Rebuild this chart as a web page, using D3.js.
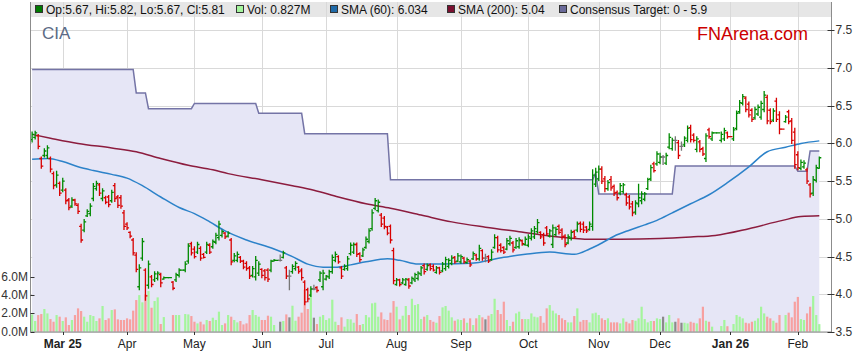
<!DOCTYPE html>
<html>
<head>
<meta charset="utf-8">
<script src="https://cdn.jsdelivr.net/npm/d3@7"></script>
<style>
  body { margin: 0; background: #fff; }
  svg { display: block; font-family: "Liberation Sans", Arial, sans-serif; }
</style>
</head>
<body>
<div id="chart"></div>
<script>
// month ticks: index of the first weekday of each month (bar 0 = 17 Feb 2025)
const monthLabels = ["Mar 25", "Apr", "May", "Jun", "Jul", "Aug", "Sep", "Oct", "Nov", "Dec", "Jan 26", "Feb"];
const monthIdx = [10, 31, 53, 75, 96, 119, 140, 162, 185, 205, 228, 250];

const priceTicks = [3.5, 4.0, 4.5, 5.0, 5.5, 6.0, 6.5, 7.0, 7.5];
const volTicks = [0, 2, 4, 6];

// daily OHLC (one entry per weekday, holidays repeat the previous close)
const opens = [
  6.05,6.08,6.10,5.80,5.84,5.84,5.80,5.60,5.45,5.47, 5.38,5.38,5.25,5.17,5.25,5.18,4.90,4.85,5.04,5.07,
  5.27,5.40,5.45,5.27,5.28,5.29,5.24,5.44,5.29,5.28, 5.08,4.93,4.82,4.72,4.52,4.10,4.48,4.32,4.12,4.23,
  4.19,4.21,4.26,4.20,4.22,4.22,4.16,4.19,4.25,4.32, 4.32,4.44,4.67,4.60,4.56,4.61,4.53,4.56,4.65,4.63,
  4.69,4.75,4.78,4.81,4.77,4.72,4.45,4.45,4.49,4.44, 4.41,4.35,4.25,4.23,4.28,4.33,4.31,4.32,4.32,4.44,
  4.45,4.45,4.49,4.35,4.24,4.30,4.34,4.36,4.32,4.16, 4.06,3.99,4.07,4.09,4.19,4.10,4.20,4.23,4.30,4.45,
  4.50,4.35,4.33,4.34,4.54,4.56,4.66,4.54,4.51,4.62, 4.70,4.87,5.14,5.11,5.05,5.01,4.89,4.90,4.58,4.13,
  4.19,4.15,4.13,4.19,4.15,4.19,4.21,4.27,4.38,4.33, 4.39,4.37,4.29,4.35,4.31,4.34,4.37,4.41,4.49,4.44,
  4.43,4.48,4.42,4.44,4.47,4.52,4.47,4.58,4.48,4.50, 4.46,4.62,4.75,4.65,4.62,4.60,4.67,4.68,4.62,4.63,
  4.71,4.66,4.65,4.74,4.76,4.83,4.82,4.79,4.88,4.77, 4.66,4.79,4.90,4.85,4.77,4.68,4.74,4.83,4.85,4.94,
  4.93,4.89,4.86,4.90,5.46,5.53,5.66,5.53,5.40,5.52, 5.43,5.35,5.34,5.36,5.32,5.29,5.20,5.09,5.20,5.24,
  5.26,5.40,5.53,5.73,5.73,5.75,5.82,5.74,5.95,5.93, 6.04,6.01,5.96,5.98,6.04,6.21,6.11,5.92,6.02,5.93,
  5.80,6.18,6.06,6.14,6.14,6.04,6.06,6.14,6.09,6.06, 6.20,6.42,6.53,6.60,6.52,6.44,6.34,6.39,6.35,6.45,
  6.61,6.44,6.31,6.56,6.38,6.19,6.29,6.42,6.30,6.15, 5.85,5.67,5.69,5.65,5.45,5.34,5.51,5.67
];
const highs = [
  6.15,6.16,6.12,5.82,5.93,5.97,5.82,5.62,5.63,5.49, 5.54,5.40,5.27,5.28,5.26,5.20,4.93,4.99,5.12,5.20,
  5.47,5.50,5.47,5.40,5.30,5.31,5.38,5.47,5.31,5.31, 5.11,4.95,4.83,4.74,4.55,4.39,4.74,4.34,4.44,4.25,
  4.30,4.30,4.28,4.23,4.22,4.22,4.17,4.28,4.34,4.32, 4.43,4.67,4.69,4.63,4.69,4.63,4.54,4.69,4.67,4.72,
  4.81,4.97,4.85,4.82,4.83,4.74,4.54,4.56,4.50,4.45, 4.43,4.37,4.37,4.50,4.43,4.34,4.33,4.34,4.45,4.46,
  4.45,4.52,4.57,4.37,4.32,4.39,4.43,4.37,4.34,4.18, 4.08,4.10,4.12,4.10,4.30,4.32,4.25,4.32,4.52,4.56,
  4.51,4.37,4.39,4.50,4.68,4.68,4.68,4.55,4.61,4.76, 4.87,5.12,5.27,5.25,5.07,5.03,4.90,4.92,4.61,4.21,
  4.20,4.21,4.21,4.21,4.23,4.28,4.30,4.37,4.40,4.40, 4.40,4.39,4.37,4.36,4.42,4.49,4.47,4.51,4.50,4.54,
  4.52,4.49,4.48,4.45,4.56,4.53,4.65,4.59,4.53,4.51, 4.59,4.79,4.77,4.67,4.63,4.74,4.77,4.70,4.74,4.75,
  4.72,4.76,4.79,4.87,4.90,4.99,4.83,4.81,4.90,4.86, 4.92,4.89,4.92,4.87,4.79,4.79,4.85,4.85,4.96,4.96,
  4.96,4.90,4.96,5.65,5.67,5.70,5.69,5.56,5.51,5.56, 5.45,5.37,5.47,5.47,5.34,5.31,5.23,5.24,5.46,5.36,
  5.35,5.54,5.71,5.75,5.89,5.87,5.84,5.87,6.13,6.07, 6.09,6.04,6.02,6.09,6.23,6.24,6.13,6.09,6.04,5.95,
  6.13,6.20,6.15,6.14,6.14,6.15,6.20,6.15,6.09,6.21, 6.43,6.57,6.65,6.62,6.55,6.46,6.48,6.51,6.56,6.69,
  6.64,6.46,6.46,6.60,6.42,6.19,6.37,6.44,6.33,6.20, 5.89,5.78,5.77,5.67,5.47,5.56,5.71,5.82
];
const lows = [
  6.02,6.06,5.93,5.67,5.82,5.80,5.62,5.40,5.42,5.31, 5.36,5.20,5.12,5.15,5.18,5.07,4.69,4.83,5.03,5.04,
  5.24,5.38,5.31,5.24,5.20,5.16,5.22,5.23,5.15,5.14, 4.86,4.86,4.75,4.52,4.30,4.06,4.45,3.92,4.08,4.10,
  4.17,4.19,4.10,4.20,4.22,4.22,4.06,4.17,4.23,4.32, 4.30,4.41,4.52,4.48,4.54,4.45,4.48,4.54,4.54,4.61,
  4.67,4.72,4.76,4.74,4.76,4.39,4.43,4.43,4.42,4.34, 4.32,4.21,4.23,4.19,4.25,4.22,4.19,4.17,4.30,4.44,
  4.45,4.44,4.48,4.21,4.06,4.28,4.32,4.28,4.19,3.86, 3.90,3.97,4.06,4.03,4.17,4.06,4.19,4.21,4.28,4.43,
  4.41,4.21,4.32,4.32,4.52,4.54,4.50,4.43,4.50,4.61, 4.68,4.85,5.12,5.09,4.90,4.87,4.79,4.68,4.14,4.12,
  4.11,4.14,4.12,4.08,4.14,4.17,4.19,4.25,4.27,4.32, 4.32,4.31,4.28,4.27,4.30,4.32,4.35,4.39,4.41,4.43,
  4.41,4.41,4.41,4.37,4.46,4.45,4.45,4.45,4.43,4.42, 4.45,4.61,4.56,4.56,4.54,4.59,4.65,4.56,4.61,4.61,
  4.65,4.65,4.63,4.72,4.74,4.81,4.74,4.65,4.78,4.76, 4.62,4.78,4.80,4.73,4.63,4.67,4.72,4.74,4.83,4.83,
  4.82,4.82,4.85,4.85,5.43,5.51,5.47,5.36,5.38,5.38, 5.31,5.25,5.32,5.34,5.18,5.13,5.04,5.06,5.16,5.20,
  5.24,5.39,5.51,5.62,5.71,5.73,5.72,5.72,5.93,5.91, 5.91,5.80,5.91,5.96,6.02,6.02,6.02,5.89,5.89,5.84,
  5.76,6.07,6.04,6.14,6.14,6.02,6.04,6.07,6.09,6.04, 6.18,6.40,6.51,6.42,6.35,6.29,6.32,6.37,6.32,6.42,
  6.26,6.26,6.29,6.29,6.13,6.19,6.28,6.26,6.00,5.67, 5.65,5.65,5.67,5.47,5.29,5.31,5.49,5.67
];
const closes = [
  6.12,6.14,5.96,5.70,5.90,5.94,5.66,5.44,5.58,5.34, 5.50,5.24,5.15,5.25,5.20,5.10,4.72,4.96,5.10,5.17,
  5.43,5.47,5.34,5.37,5.22,5.19,5.35,5.27,5.18,5.17, 4.90,4.88,4.77,4.55,4.33,4.35,4.70,3.98,4.40,4.13,
  4.27,4.28,4.15,4.22,4.22,4.22,4.08,4.26,4.32,4.32, 4.40,4.64,4.55,4.50,4.66,4.48,4.49,4.66,4.56,4.70,
  4.78,4.93,4.83,4.76,4.81,4.43,4.51,4.53,4.44,4.36, 4.34,4.24,4.34,4.45,4.40,4.25,4.22,4.20,4.44,4.45,
  4.45,4.45,4.55,4.24,4.24,4.37,4.41,4.30,4.22,3.90, 3.94,4.07,4.07,4.05,4.28,4.28,4.24,4.30,4.49,4.53,
  4.43,4.24,4.37,4.47,4.65,4.66,4.53,4.46,4.59,4.73, 4.84,5.08,5.24,5.22,4.93,4.90,4.81,4.72,4.18,4.19,
  4.13,4.19,4.20,4.11,4.21,4.26,4.28,4.35,4.30,4.38, 4.34,4.32,4.35,4.29,4.40,4.46,4.45,4.48,4.43,4.51,
  4.50,4.43,4.46,4.39,4.54,4.47,4.61,4.48,4.48,4.44, 4.56,4.75,4.59,4.58,4.56,4.71,4.74,4.59,4.71,4.72,
  4.67,4.73,4.76,4.84,4.87,4.95,4.76,4.68,4.80,4.84, 4.88,4.86,4.82,4.76,4.66,4.76,4.82,4.76,4.93,4.86,
  4.85,4.84,4.93,5.58,5.62,5.66,5.50,5.40,5.48,5.41, 5.34,5.28,5.44,5.45,5.21,5.16,5.08,5.21,5.28,5.33,
  5.33,5.52,5.68,5.64,5.86,5.82,5.82,5.84,6.08,6.04, 6.04,5.84,5.96,6.07,6.20,6.05,6.04,6.06,5.92,5.86,
  6.10,6.09,6.14,6.14,6.14,6.12,6.17,6.09,6.09,6.18, 6.40,6.54,6.62,6.45,6.38,6.32,6.45,6.48,6.53,6.64,
  6.30,6.29,6.43,6.32,6.19,6.19,6.35,6.29,6.04,5.72, 5.68,5.75,5.74,5.50,5.33,5.52,5.68,5.81
];
// volume in millions
const volumes = [
  1.89,1.17,1.82,1.93,2.48,2.00,1.38,1.09,1.82,1.64, 1.17,1.57,0.73,1.28,1.82,2.55,2.26,1.64,1.09,1.82,
  1.71,1.17,1.46,2.81,1.28,1.46,2.37,2.44,1.35,1.28, 1.28,1.46,1.35,2.30,3.46,4.00,3.21,4.08,4.44,2.62,
  3.35,3.75,0.84,1.60,0,0,1.82,1.82,1.82,0, 1.93,1.89,1.71,1.09,0.91,1.09,0.80,1.28,1.17,1.53,
  1.28,2.19,0.73,0.91,1.82,1.64,1.28,1.02,1.17,0.80, 0.91,1.82,2.37,1.82,1.64,1.28,1.28,1.75,1.64,0.73,
  0,1.09,1.17,1.89,1.57,2.84,1.20,1.64,2.08,4.60, 2.48,4.70,1.53,0.84,1.64,1.82,1.28,1.46,3.50,1.09,
  0.73,1.57,0.55,1.38,1.35,0.98,1.93,0.73,0.84,1.82, 1.57,3.10,3.17,1.64,2.11,1.35,1.28,2.08,3.35,2.73,
  1.35,1.75,2.81,1.82,3.60,2.91,3.02,1.38,1.64,1.82, 1.28,1.09,0.98,1.71,2.66,2.81,2.30,1.57,1.20,1.35,
  1.28,1.46,0.98,1.46,0.73,1.46,1.82,1.57,1.35,1.75, 1.93,3.60,2.37,1.93,3.28,1.28,0.62,1.09,2.00,2.19,
  1.38,1.38,1.38,2.00,1.64,1.57,1.71,0.98,2.55,2.91, 2.30,2.00,1.82,1.46,1.28,1.02,1.02,1.71,2.55,1.09,
  1.28,1.28,1.02,2.00,2.08,1.82,1.46,1.28,1.46,1.02, 1.02,1.02,0.91,1.46,1.09,0.91,1.28,1.20,1.46,2.73,
  1.38,1.02,1.17,1.17,1.46,1.38,1.64,1.02,1.82,1.02, 1.09,1.46,0.98,0.98,0.91,1.09,0.98,0.91,1.46,2.73,
  1.20,1.09,0.55,0,0,0.62,1.28,0.60,0,0.84, 1.82,1.64,1.46,0.98,0.91,1.09,1.20,1.46,2.73,2.00,
  1.64,1.46,1.20,0.98,1.82,0,1.82,2.08,1.57,3.28, 3.80,1.38,1.28,2.00,2.73,3.90,1.82,0.827
];

// moving averages at these bar indices
const sma60Idx = [0, 5, 10, 15, 20, 26, 31, 36, 42, 48, 53, 58, 63, 70, 79, 85, 90, 95, 99, 104, 109, 116, 120, 126,
  134, 143, 154, 161, 169, 177, 182, 186, 190, 195, 200, 204, 209, 215, 221, 227, 234, 240, 246, 251, 257];
const sma60Val = [5.79, 5.80, 5.76, 5.69, 5.64, 5.59, 5.54, 5.44, 5.29, 5.15, 5.07, 4.96, 4.84, 4.72, 4.60, 4.50, 4.40,
  4.36, 4.36, 4.39, 4.43, 4.47, 4.45, 4.40, 4.40, 4.41, 4.49, 4.53, 4.56, 4.53, 4.60, 4.68, 4.77, 4.85, 4.92, 4.98,
  5.08, 5.20, 5.32, 5.48, 5.69, 5.89, 5.95, 6.00, 6.034];
const sma200Idx = [0, 6, 15, 26, 34, 42, 51, 59, 64, 75, 85, 92, 100, 109, 117, 127, 137, 148, 159, 172, 182, 192,
  205, 215, 223, 234, 245, 251, 257];
const sma200Val = [6.12, 6.07, 6.00, 5.94, 5.89, 5.80, 5.71, 5.65, 5.60, 5.52, 5.44, 5.38, 5.29, 5.20, 5.14, 5.05,
  4.96, 4.89, 4.83, 4.76, 4.73, 4.73, 4.74, 4.76, 4.78, 4.87, 4.98, 5.03, 5.04];

// consensus target: value held from bar targetFrom to bar targetTo
const targetFrom = [0, 34, 38, 53, 74, 89, 117, 184, 185, 210, 250, 254];
const targetTo = [33, 37, 52, 73, 88, 116, 183, 184, 209, 249, 253, 257];
const targetVal = [6.98, 6.67, 6.46, 6.53, 6.40, 6.13, 5.52, 5.61, 5.33, 5.70, 5.63, 5.90];

const W = 859, H = 363;
const pL = 30.5, pR = 831.5, pT = 2, pB = 332;
const N = closes.length;

const upCol = "#008a00", downCol = "#d80000", flatCol = "#777";
const volUp = "#a4f59c", volDown = "#f7a0a0", volFlat = "#8a8a8a";

const x = d3.scaleLinear().domain([0, N - 1]).range([32.1, 819.3]);
const y = d3.scaleLinear().domain([3.5, 7.5]).range([pB, 30.3]);
const yVol = d3.scaleLinear().domain([0, 6]).range([331.7, 276.8]);

// colour of each day: up, down or unchanged; holidays keep the previous colour
const dir = [];
closes.forEach((c, i) => {
  let d;
  if (volumes[i] === 0 && i > 0) d = dir[i - 1];
  else d = c > opens[i] ? 1 : (c < opens[i] ? -1 : 0);
  dir.push(d);
});

const svg = d3.select("#chart").append("svg")
  .attr("width", W).attr("height", H)
  .attr("viewBox", [0, 0, W, H]);

// legend band
svg.append("rect").attr("x", pL + 0.5).attr("y", pT).attr("width", pR - pL - 1).attr("height", 15)
  .attr("fill", "#e6e6e6");

// grid
svg.append("g").selectAll("line").data(priceTicks).join("line")
  .attr("x1", pL).attr("x2", pR)
  .attr("y1", d => Math.round(y(d)) + 0.5).attr("y2", d => Math.round(y(d)) + 0.5)
  .attr("stroke", "#d9d9d9");
svg.append("g").selectAll("line").data(monthIdx).join("line")
  .attr("x1", d => Math.round(x(d)) + 0.5).attr("x2", d => Math.round(x(d)) + 0.5)
  .attr("y1", pT).attr("y2", pB)
  .attr("stroke", "#d9d9d9");

// consensus target area + line
const targetPts = [];
targetFrom.forEach((f, k) => {
  targetPts.push([f, targetVal[k]]);
  if (targetTo[k] !== f) targetPts.push([targetTo[k], targetVal[k]]);
});
svg.append("path").datum(targetPts)
  .attr("fill", "#e6e6f6")
  .attr("d", d3.area().x(d => x(d[0])).y0(pB).y1(d => y(d[1])));

// volume
svg.append("g").selectAll("rect").data(volumes).join("rect")
  .attr("x", (d, i) => x(i) - 1.1)
  .attr("width", 2.2)
  .attr("y", d => yVol(d))
  .attr("height", d => yVol(0) - yVol(d))
  .attr("fill", (d, i) => dir[i] > 0 ? volUp : (dir[i] < 0 ? volDown : volFlat));

// consensus line
svg.append("path").datum(targetPts)
  .attr("fill", "none").attr("stroke", "#7474a6").attr("stroke-width", 1.5)
  .attr("d", d3.line().x(d => x(d[0])).y(d => y(d[1])));

// moving averages
const maLine = d3.line().x(d => x(d[0])).y(d => y(d[1])).curve(d3.curveMonotoneX);
svg.append("path").datum(sma200Idx.map((d, i) => [d, sma200Val[i]]))
  .attr("fill", "none").attr("stroke", "#8c1c3e").attr("stroke-width", 1.5).attr("d", maLine);
svg.append("path").datum(sma60Idx.map((d, i) => [d, sma60Val[i]]))
  .attr("fill", "none").attr("stroke", "#2c82c9").attr("stroke-width", 1.5).attr("d", maLine);

// OHLC bars
svg.append("g").attr("fill", "none").attr("stroke-width", 1.3)
  .selectAll("path").data(closes).join("path")
  .attr("stroke", (d, i) => dir[i] > 0 ? upCol : (dir[i] < 0 ? downCol : flatCol))
  .attr("d", (c, i) => {
    const cx = x(i);
    return `M${cx},${y(highs[i]) - 0.5}V${y(lows[i]) + 0.5}` +
      `M${cx - 2},${y(opens[i])}H${cx}M${cx},${y(c)}H${cx + 2}`;
  });

// axes lines
const axisCol = "#8c8c8c";
svg.append("line").attr("x1", pL).attr("x2", pL).attr("y1", pT).attr("y2", pB).attr("stroke", axisCol);
svg.append("line").attr("x1", pR).attr("x2", pR).attr("y1", pT).attr("y2", pB).attr("stroke", axisCol);
svg.append("line").attr("x1", pL).attr("x2", pR).attr("y1", pB).attr("y2", pB).attr("stroke", axisCol);

// right price axis
const ra = svg.append("g").attr("font-size", 12).attr("fill", "#333");
ra.selectAll("line").data(priceTicks).join("line")
  .attr("x1", pR - 4).attr("x2", pR + 3)
  .attr("y1", d => Math.round(y(d)) + 0.5).attr("y2", d => Math.round(y(d)) + 0.5)
  .attr("stroke", "#333");
ra.selectAll("text").data(priceTicks).join("text")
  .attr("x", pR + 4).attr("y", d => y(d) + 4)
  .text(d3.format(".1f"));

// left volume axis
const la = svg.append("g").attr("font-size", 12).attr("fill", "#333");
la.selectAll("line").data(volTicks).join("line")
  .attr("x1", pL).attr("x2", pL + 4)
  .attr("y1", d => Math.round(yVol(d)) + 0.5).attr("y2", d => Math.round(yVol(d)) + 0.5)
  .attr("stroke", "#333");
la.selectAll("text").data(volTicks).join("text")
  .attr("x", 28).attr("y", d => yVol(d) + 4).attr("text-anchor", "end")
  .text(d => d.toFixed(1) + "M");

// bottom month axis
const ba = svg.append("g").attr("font-size", 12).attr("fill", "#222");
ba.selectAll("line").data(monthIdx).join("line")
  .attr("x1", d => Math.round(x(d)) + 0.5).attr("x2", d => Math.round(x(d)) + 0.5)
  .attr("y1", pB).attr("y2", pB + 3).attr("stroke", "#333");
ba.selectAll("text").data(monthLabels).join("text")
  .attr("x", (d, i) => x(monthIdx[i])).attr("y", 348).attr("text-anchor", "middle")
  .attr("font-weight", d => /\d/.test(d) ? "bold" : null)
  .text(d => d);

// titles
svg.append("text").attr("x", 42).attr("y", 39).attr("font-size", 17).attr("fill", "#5b6a85").text("CIA");
svg.append("text").attr("x", 808).attr("y", 40).attr("font-size", 18).attr("text-anchor", "end")
  .attr("fill", "#cc0000").text("FNArena.com");

// legend
const last = N - 1;
const legend = [
  { x: 35, col: "#007a00", text: `Op:${opens[last].toFixed(2)}, Hi:${highs[last].toFixed(2)}, Lo:${lows[last].toFixed(2)}, Cl:${closes[last].toFixed(2)}` },
  { x: 236, col: "#a4f59c", text: `Vol: ${volumes[last]}M` },
  { x: 330, col: "#1f6aa8", text: `SMA (60): ${sma60Val[sma60Val.length - 1].toFixed(3)}` },
  { x: 447, col: "#7a1030", text: `SMA (200): ${sma200Val[sma200Val.length - 1].toFixed(2)}` },
  { x: 559, col: "#6a6a9a", text: `Consensus Target: 0 - ${targetVal[targetVal.length - 1].toFixed(1)}` }
];
const lg = svg.append("g").attr("font-size", 12).attr("fill", "#111");
legend.forEach(d => {
  lg.append("rect").attr("x", d.x + 0.5).attr("y", 5.5).attr("width", 7).attr("height", 7)
    .attr("fill", d.col).attr("stroke", "#333");
  lg.append("text").attr("x", d.x + 11).attr("y", 14).text(d.text);
});
</script>
</body>
</html>
